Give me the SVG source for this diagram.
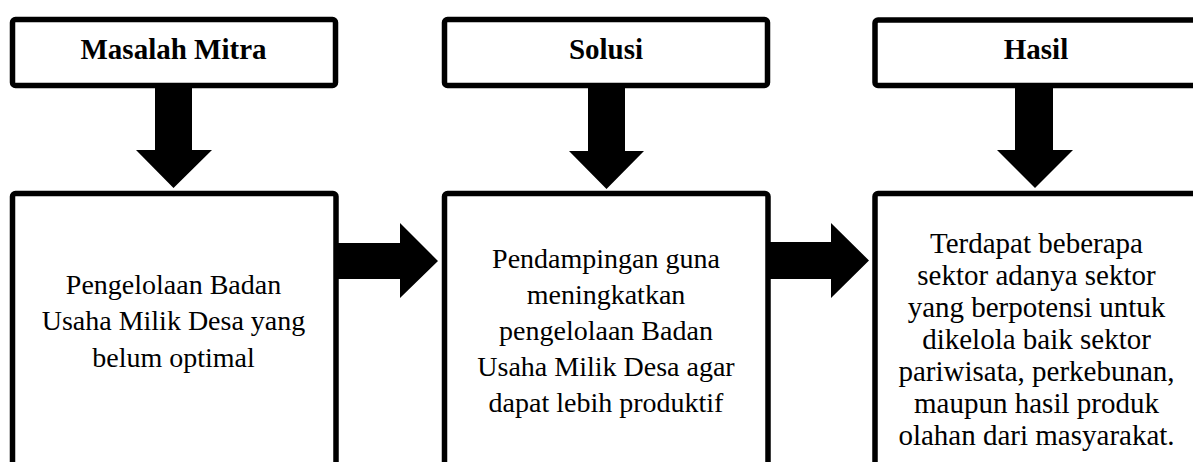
<svg xmlns="http://www.w3.org/2000/svg" width="1193" height="462" viewBox="0 0 1193 462">
  <style>
    .box { fill: #ffffff; stroke: #000000; stroke-width: 5.5; }
    .hdr { font-family: "Liberation Serif", "Times New Roman", serif; font-weight: bold; font-size: 29px; fill: #000; text-anchor: middle; }
    .body { font-family: "Liberation Serif", "Times New Roman", serif; font-size: 28px; fill: #000; text-anchor: middle; }
    .body3 { font-family: "Liberation Serif", "Times New Roman", serif; font-size: 29px; fill: #000; text-anchor: middle; }
    .arrow { fill: #000000; }
  </style>
  <rect width="1193" height="462" fill="#ffffff"/>

  <g id="header-masalah">
    <rect class="box" x="12.5" y="19.5" width="323" height="66" rx="3"/>
    <text class="hdr" x="173.5" y="59">Masalah Mitra</text>
  </g>
  <g id="header-solusi">
    <rect class="box" x="444.5" y="19.5" width="323" height="66" rx="3"/>
    <text class="hdr" x="606" y="59">Solusi</text>
  </g>
  <g id="header-hasil">
    <rect class="box" x="875" y="20" width="330" height="65.5" rx="3"/>
    <text class="hdr" x="1036" y="59">Hasil</text>
  </g>

  <g id="box-masalah">
    <rect class="box" x="12.5" y="193.5" width="323.5" height="290" rx="3"/>
    <text class="body" x="173.5" y="293.5">Pengelolaan Badan</text>
    <text class="body" x="173.5" y="330">Usaha Milik Desa yang</text>
    <text class="body" x="173.5" y="366.5">belum optimal</text>
  </g>
  <g id="box-solusi">
    <rect class="box" x="444.5" y="193.5" width="323.5" height="290" rx="3"/>
    <text class="body" x="606" y="268">Pendampingan guna</text>
    <text class="body" x="606" y="304">meningkatkan</text>
    <text class="body" x="606" y="340">pengelolaan Badan</text>
    <text class="body" x="606" y="376">Usaha Milik Desa agar</text>
    <text class="body" x="606" y="412">dapat lebih produktif</text>
  </g>
  <g id="box-hasil">
    <rect class="box" x="875" y="193.5" width="330" height="290" rx="3"/>
    <text class="body3" x="1036.5" y="253">Terdapat beberapa</text>
    <text class="body3" x="1036.5" y="285">sektor adanya sektor</text>
    <text class="body3" x="1036.5" y="317">yang berpotensi untuk</text>
    <text class="body3" x="1036.5" y="349">dikelola baik sektor</text>
    <text class="body3" x="1036.5" y="381">pariwisata, perkebunan,</text>
    <text class="body3" x="1036.5" y="413">maupun hasil produk</text>
    <text class="body3" x="1036.5" y="445">olahan dari masyarakat.</text>
  </g>

  <g id="connectors">
    <polygon class="arrow" points="155,88 192,88 192,150 212,150 173.5,188 136,150 155,150"/>
    <polygon class="arrow" points="588,88 625,88 625,151 644,151 606.5,189 569,151 588,151"/>
    <polygon class="arrow" points="1015,88 1053,88 1053,150 1073,150 1035,188 997,150 1015,150"/>
    <polygon class="arrow" points="338,243 400,243 400,223 438,261 400,298 400,279 338,279"/>
    <polygon class="arrow" points="770,242 831,242 831,223 869,260.5 831,298 831,279 770,279"/>
  </g>
</svg>
